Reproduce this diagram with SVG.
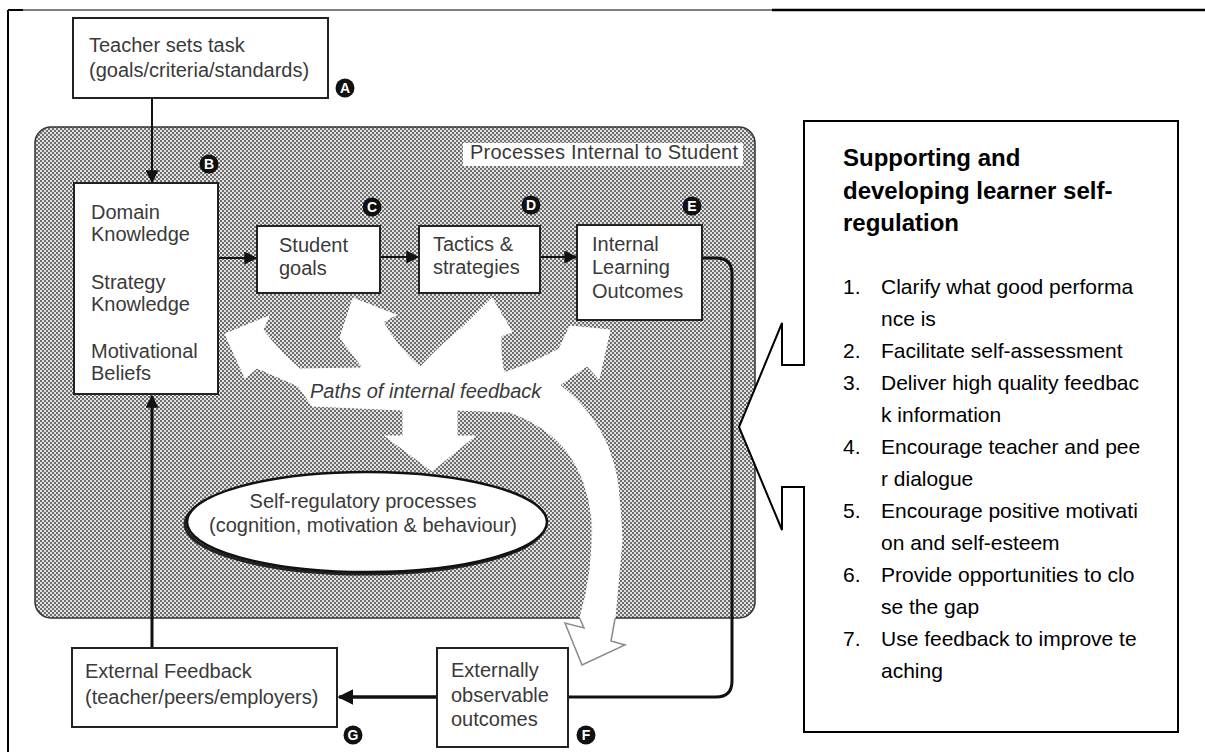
<svg xmlns="http://www.w3.org/2000/svg" width="1205" height="755" viewBox="0 0 1205 755">
  <style>
    .box { fill: #fff; stroke: #222; stroke-width: 2; }
    .t { font-family: "Liberation Sans", Arial, sans-serif; font-size: 20px; fill: #3a3a3a; }
    .it { font-style: italic; }
    .badge circle { fill: #111; }
    .badge text { font-family: "Liberation Sans", Arial, sans-serif; font-size: 14px; font-weight: bold; fill: #fff; text-anchor: middle; }
    .wire { fill: none; stroke: #111; }
    .ct { font-family: "Liberation Sans", Arial, sans-serif; font-size: 21px; fill: #000; }
    .ch { font-family: "Liberation Sans", Arial, sans-serif; font-size: 24px; font-weight: bold; fill: #000; }
  </style>
  <defs>
    <pattern id="dots" width="4" height="4" patternUnits="userSpaceOnUse">
      <rect width="4" height="4" fill="#e2e2e2"/>
      <rect width="2" height="2" fill="#6e6e6e"/>
      <rect x="2" y="2" width="2" height="2" fill="#6e6e6e"/>
    </pattern>
    <marker id="head" viewBox="0 0 10 10" refX="9" refY="5" markerWidth="13" markerHeight="13" markerUnits="userSpaceOnUse" orient="auto">
      <path d="M0,0 L10,5 L0,10 z" fill="#111"/>
    </marker>
    <marker id="headBig" viewBox="0 0 10 10" refX="9" refY="5" markerWidth="16" markerHeight="16" markerUnits="userSpaceOnUse" orient="auto">
      <path d="M0,0 L10,5 L0,10 z" fill="#111"/>
    </marker>
  </defs>

  <rect width="1205" height="755" fill="#fff"/>

  <!-- page frame -->
  <g id="frame" stroke="#000" fill="none">
    <line x1="8" y1="10" x2="8" y2="752" stroke-width="2"/>
    <line x1="8" y1="10" x2="772" y2="10" stroke-width="1"/>
    <line x1="8" y1="10" x2="23" y2="10" stroke-width="2"/>
    <line x1="772" y1="10" x2="1205" y2="10" stroke-width="2.5"/>
  </g>

  <!-- shaded area: processes internal to the student -->
  <g id="internal">
    <rect x="35" y="127" width="720" height="491" rx="16" fill="url(#dots)" stroke="#333" stroke-width="1.5"/>
    <rect x="463" y="143" width="280" height="23" fill="#fff"/>
    <text class="t" x="470" y="159" letter-spacing="0.2">Processes Internal to Student</text>
  </g>

  <!-- white paths of internal feedback -->
  <g id="feedback-paths">
    <path fill="#fff" stroke="#fff" stroke-width="1" stroke-linejoin="round"
      d="M225,334 L269,316 L263,330 Q280,352 300,369 L363,368 L340,338 L353,298 L396,315 L383,322 Q398,348 420,367 Q440,345 464,326 L492,298 L512,332 L501,336 Q500,356 504,373 Q535,362 559,349 L570,326 L610,330 L599,379 L587,366 Q572,376 560,385 Q592,410 607,445 Q620,480 622,540 L615,618 L580,618 Q594,570 592,520 Q588,478 566,450 Q545,425 510,412 L457,410 L457,436 L475,436 L432,471 L385,436 L403,436 L403,410 L312,406 Q304,394 298,386 L257,368 L245,378 Z"/>
    <path fill="none" stroke="#fff" stroke-width="26" d="M566,410 Q600,440 606,490 Q610,560 598,616"/>
    <path fill="#fff" d="M580,617 L584,628 L565,623 L582,665 L625,645 L611,641 L615,617 Z"/>
    <polyline fill="none" stroke="#8a8a8a" stroke-width="1.5" stroke-linejoin="miter" points="580,619 584,628 565,623 582,665 625,645 611,641 615,619"/>
    <text class="t it" x="310" y="398">Paths of internal feedback</text>
  </g>

  <!-- connectors -->
  <g id="connectors">
    <line class="wire" x1="152" y1="98" x2="152" y2="182" stroke-width="2" marker-end="url(#head)"/>
    <line class="wire" x1="218" y1="258" x2="256" y2="258" stroke-width="2" marker-end="url(#head)"/>
    <line class="wire" x1="380" y1="257" x2="418" y2="257" stroke-width="2" marker-end="url(#head)"/>
    <line class="wire" x1="540" y1="257" x2="576" y2="257" stroke-width="2" marker-end="url(#head)"/>
    <path class="wire" d="M702,258 H716 Q732,258 732,274 V681 Q732,697 716,697 H568" stroke-width="3"/>
    <line class="wire" x1="437" y1="697" x2="339" y2="697" stroke-width="3.5" marker-end="url(#headBig)"/>
    <line class="wire" x1="152" y1="648" x2="152" y2="396" stroke-width="3" marker-end="url(#head)"/>
  </g>

  <!-- nodes -->
  <g id="teacher">
    <rect class="box" x="73" y="18" width="255" height="80"/>
    <text class="t" x="89" y="52">Teacher sets task</text>
    <text class="t" x="89" y="77">(goals/criteria/standards)</text>
  </g>

  <g id="knowledge">
    <rect class="box" x="74" y="183" width="144" height="211"/>
    <text class="t" x="91" y="219">Domain</text>
    <text class="t" x="91" y="241">Knowledge</text>
    <text class="t" x="91" y="289">Strategy</text>
    <text class="t" x="91" y="311">Knowledge</text>
    <text class="t" x="91" y="358">Motivational</text>
    <text class="t" x="91" y="380">Beliefs</text>
  </g>

  <g id="student-goals">
    <rect class="box" x="257" y="226" width="123" height="67"/>
    <text class="t" x="279" y="252">Student</text>
    <text class="t" x="279" y="275">goals</text>
  </g>

  <g id="tactics">
    <rect class="box" x="419" y="226" width="121" height="67"/>
    <text class="t" x="433" y="251">Tactics &amp;</text>
    <text class="t" x="433" y="274">strategies</text>
  </g>

  <g id="outcomes-internal">
    <rect class="box" x="577" y="225" width="125" height="95"/>
    <text class="t" x="592" y="251">Internal</text>
    <text class="t" x="592" y="274">Learning</text>
    <text class="t" x="592" y="298">Outcomes</text>
  </g>

  <g id="self-regulation">
    <ellipse cx="365" cy="524" rx="180" ry="50" fill="none" stroke="#222" stroke-width="3"/>
    <ellipse cx="367" cy="522" rx="180" ry="50" fill="#fff" stroke="#111" stroke-width="2.5"/>
    <text class="t" x="363" y="508" text-anchor="middle">Self-regulatory processes</text>
    <text class="t" x="363" y="532" text-anchor="middle">(cognition, motivation &amp; behaviour)</text>
  </g>

  <g id="external-feedback">
    <rect class="box" x="72" y="648" width="265" height="79"/>
    <text class="t" x="85" y="678">External Feedback</text>
    <text class="t" x="85" y="704">(teacher/peers/employers)</text>
  </g>

  <g id="outcomes-external">
    <rect class="box" x="437" y="648" width="131" height="99"/>
    <text class="t" x="451" y="677">Externally</text>
    <text class="t" x="451" y="702">observable</text>
    <text class="t" x="451" y="726">outcomes</text>
  </g>

  <!-- stage badges -->
  <g id="badges">
    <g class="badge"><circle cx="345" cy="88" r="9.5"/><text x="345" y="93">A</text></g>
    <g class="badge"><circle cx="209" cy="164" r="9.5"/><text x="209" y="169">B</text></g>
    <g class="badge"><circle cx="372" cy="207" r="9.5"/><text x="372" y="212">C</text></g>
    <g class="badge"><circle cx="531" cy="205" r="9.5"/><text x="531" y="210">D</text></g>
    <g class="badge"><circle cx="692" cy="206" r="9.5"/><text x="692" y="211">E</text></g>
    <g class="badge"><circle cx="586" cy="735" r="9.5"/><text x="586" y="740">F</text></g>
    <g class="badge"><circle cx="353" cy="735" r="9.5"/><text x="353" y="740">G</text></g>
  </g>

  <!-- callout -->
  <g id="callout">
    <path d="M804,121 H1178 V732 H804 V487 H782 V530 L739,427 L782,323 V365 H804 Z" fill="#fff" stroke="#000" stroke-width="2"/>
    <text class="ch" x="843" y="166">Supporting and</text>
    <text class="ch" x="843" y="199">developing learner self-</text>
    <text class="ch" x="843" y="231">regulation</text>
    <g class="ct">
      <text x="843" y="294">1.</text><text x="881" y="294">Clarify what good performa</text>
      <text x="881" y="326">nce is</text>
      <text x="843" y="358">2.</text><text x="881" y="358">Facilitate self-assessment</text>
      <text x="843" y="390">3.</text><text x="881" y="390">Deliver high quality feedbac</text>
      <text x="881" y="422">k information</text>
      <text x="843" y="454">4.</text><text x="881" y="454">Encourage teacher and pee</text>
      <text x="881" y="486">r dialogue</text>
      <text x="843" y="518">5.</text><text x="881" y="518">Encourage positive motivati</text>
      <text x="881" y="550">on and self-esteem</text>
      <text x="843" y="582">6.</text><text x="881" y="582">Provide opportunities to clo</text>
      <text x="881" y="614">se the gap</text>
      <text x="843" y="646">7.</text><text x="881" y="646">Use feedback to improve te</text>
      <text x="881" y="678">aching</text>
    </g>
  </g>
</svg>
